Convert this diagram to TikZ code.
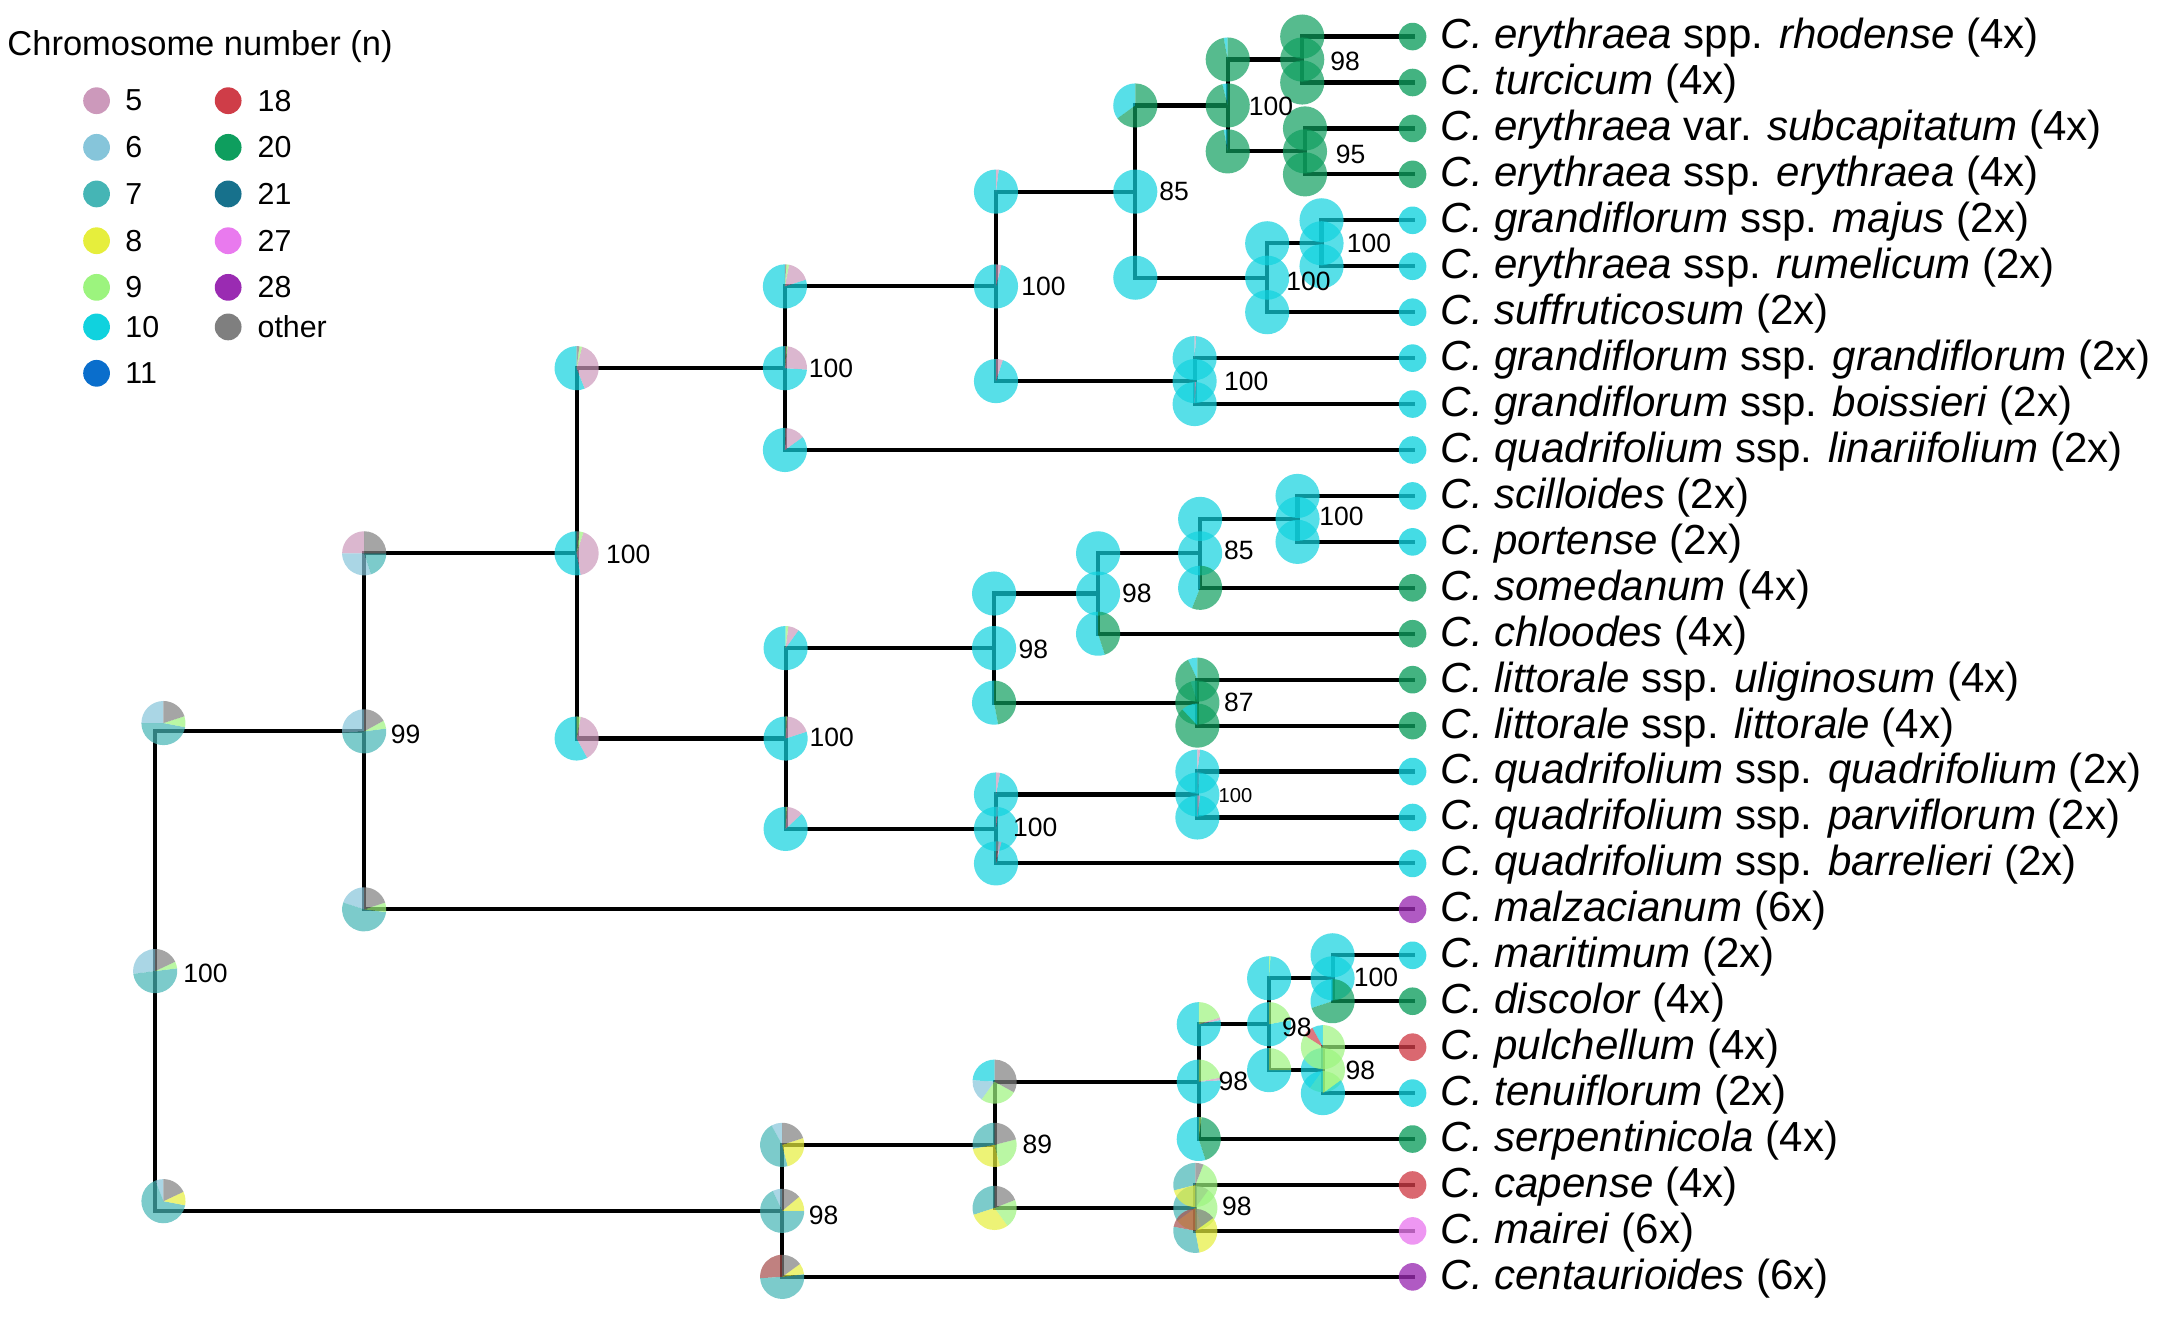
\documentclass[tikz,border=0pt]{standalone}
\usepackage{fontspec}
\setmainfont{Liberation Sans}
\usetikzlibrary{calc}
\definecolor{s5}{HTML}{CC99BB}
\definecolor{s6}{HTML}{86C5DA}
\definecolor{s7}{HTML}{45B5B5}
\definecolor{s8}{HTML}{E6EE3C}
\definecolor{s9}{HTML}{9CF47E}
\definecolor{s10}{HTML}{10D2DE}
\definecolor{s11}{HTML}{0A6ECC}
\definecolor{s18}{HTML}{CF3D48}
\definecolor{s20}{HTML}{0E9E5E}
\definecolor{s21}{HTML}{17718C}
\definecolor{s27}{HTML}{E97AEE}
\definecolor{s28}{HTML}{9A2BB2}
\definecolor{so}{HTML}{7F7F7F}
\definecolor{rb}{HTML}{A54C4A}
\newcommand\mypie[3]{%
  \gdef\mypieang{-90}%
  \foreach \pc/\pf in {#3}{%
    \pgfmathsetmacro\mypieend{\mypieang-360*\pf}%
    \fill[fill=\pc, piefill] (#1) -- ++(\mypieang:#2) arc[start angle=\mypieang, end angle=\mypieend, radius=#2] -- cycle;%
    \global\let\mypieang\mypieend
  }%
}
\begin{document}
\begin{tikzpicture}[x=0.5pt,y=-0.5pt,
  edge/.style={line width=1.5pt, line cap=rect, black},
  piefill/.style={fill opacity=0.7},
  tipdot/.style={circle, inner sep=0pt, minimum size=10pt, fill opacity=0.78},
  bs/.style={anchor=west, inner sep=0pt, font=\fontsize{9.6}{10}\selectfont},
  bss/.style={anchor=west, inner sep=0pt, font=\fontsize{7.3}{8}\selectfont},
  tiplab/.style={anchor=base west, inner sep=0pt, font=\fontsize{15.25}{16}\selectfont},
  legdot/.style={circle, inner sep=0pt, minimum size=9.7pt},
  legtxt/.style={anchor=west, inner sep=0pt, font=\fontsize{11}{12}\selectfont},
]
\useasboundingbox (0,0) rectangle (1568,954);

% ---------- tips ----------
\coordinate (t0) at (1024,26.5);
\coordinate (t1) at (1024,59.8);
\coordinate (t2) at (1024,93.1);
\coordinate (t3) at (1024,126.4);
\coordinate (t4) at (1024,159.7);
\coordinate (t5) at (1024,193.0);
\coordinate (t6) at (1024,226.3);
\coordinate (t7) at (1024,259.6);
\coordinate (t8) at (1024,292.9);
\coordinate (t9) at (1024,326.2);
\coordinate (t10) at (1024,359.5);
\coordinate (t11) at (1024,392.8);
\coordinate (t12) at (1024,426.1);
\coordinate (t13) at (1024,459.4);
\coordinate (t14) at (1024,492.7);
\coordinate (t15) at (1024,526.0);
\coordinate (t16) at (1024,559.3);
\coordinate (t17) at (1024,592.6);
\coordinate (t18) at (1024,625.9);
\coordinate (t19) at (1024,659.2);
\coordinate (t20) at (1024,692.5);
\coordinate (t21) at (1024,725.8);
\coordinate (t22) at (1024,759.1);
\coordinate (t23) at (1024,792.4);
\coordinate (t24) at (1024,825.7);
\coordinate (t25) at (1024,859.0);
\coordinate (t26) at (1024,892.3);
\coordinate (t27) at (1024,925.6);

% ---------- internal nodes ----------
\coordinate (R) at (112.5,703.95);
\coordinate (A) at (264,530.15);
\coordinate (B) at (567,877.75);
\coordinate (C) at (418,401.1);
\coordinate (D) at (569,266.9);
\coordinate (E) at (569.5,535.35);
\coordinate (F) at (722,207.6);
\coordinate (G) at (823,138.9);
\coordinate (H) at (866,276.25);
\coordinate (I) at (890,76.45);
\coordinate (J) at (918.6,201.3);
\coordinate (K) at (944,43.15);
\coordinate (L) at (946,109.75);
\coordinate (M) at (958,176.35);
\coordinate (N) at (720.6,469.8);
\coordinate (O) at (722,600.9);
\coordinate (P) at (796,430.25);
\coordinate (Q) at (868,509.35);
\coordinate (S) at (870,401.1);
\coordinate (T) at (940.6,376.15);
\coordinate (U) at (868,575.95);
\coordinate (V) at (721,829.9);
\coordinate (W) at (869,784.1);
\coordinate (X) at (866.5,875.65);
\coordinate (Y) at (920,742.45);
\coordinate (Z) at (966,709.15);
\coordinate (AA) at (959,775.75);

% ---------- branches ----------
\foreach \p/\c in {R/A,R/B,A/C,A/t19,B/V,B/t27,C/D,C/E,D/F,D/t9,E/N,E/O,F/G,F/H,G/I,G/J,H/t7,H/t8,I/K,I/L,J/M,J/t6,K/t0,K/t1,L/t2,L/t3,M/t4,M/t5,N/P,N/Q,O/U,O/t18,P/S,P/t13,Q/t14,Q/t15,S/T,S/t12,T/t10,T/t11,U/t16,U/t17,V/W,V/X,W/Y,W/t24,X/t25,X/t26,Y/Z,Y/AA,Z/t20,Z/t21,AA/t22,AA/t23}
  {\draw[edge] (\p |- \c) -- (\c);}
\foreach \p/\a/\b in {R/A/B,A/C/t19,B/V/t27,C/D/E,D/F/t9,E/N/O,F/G/H,G/I/J,H/t7/t8,I/K/L,J/M/t6,K/t0/t1,L/t2/t3,M/t4/t5,N/P/Q,O/U/t18,P/S/t13,Q/t14/t15,S/T/t12,T/t10/t11,U/t16/t17,V/W/X,W/Y/t24,X/t25/t26,Y/Z/AA,Z/t20/t21,AA/t22/t23}
  {\draw[edge] (\p |- \a) -- (\p |- \b);}

% ---------- node pies ----------
\mypie{R}{16}{s6/0.27,s7/0.50,s9/0.05,so/0.18}
\mypie{A}{16}{s6/0.26,s7/0.51,s9/0.06,so/0.17}
\mypie{B}{16}{s6/0.07,s7/0.68,s8/0.11,so/0.14}
\mypie{C}{16}{s10/0.53,s5/0.42,s9/0.03,so/0.02}
\mypie{D}{16}{s10/0.74,s5/0.24,s9/0.01,so/0.01}
\mypie{E}{16}{s10/0.80,s5/0.19,s9/0.01}
\mypie{F}{16}{s10/0.96,s5/0.04}
\mypie{G}{16}{s10/1}
\mypie{H}{16}{s10/1}
\mypie{I}{16}{s10/0.04,s20/0.96}
\mypie{J}{16}{s10/1}
\mypie{K}{16}{s20/1}
\mypie{L}{16}{s20/1}
\mypie{M}{16}{s10/1}
\mypie{N}{16}{s10/1}
\mypie{O}{16}{s10/0.98,s5/0.02}
\mypie{P}{16}{s10/1}
\mypie{Q}{16}{s10/0.05,s20/0.95}
\mypie{S}{16}{s10/1}
\mypie{T}{16}{s10/1}
\mypie{U}{16}{s10/0.98,s5/0.02}
\mypie{V}{16}{s7/0.28,s8/0.26,s9/0.25,so/0.21}
\mypie{W}{16}{s10/0.76,s5/0.02,s9/0.22}
\mypie{X}{16}{s7/0.35,s8/0.20,s9/0.35,so/0.10}
\mypie{Y}{16}{s10/0.78,s9/0.22}
\mypie{Z}{16}{s10/1}
\mypie{AA}{16}{s10/0.40,s9/0.60}

% ---------- branch-start pies ----------
\mypie{$(R |- A)+(6,-6)$}{16}{s6/0.25,s7/0.47,s9/0.08,so/0.20}
\mypie{$(R |- B)+(6,-7)$}{16}{s6/0.06,s7/0.66,s8/0.10,so/0.18}
\mypie{A |- C}{16}{s5/0.25,s6/0.30,s7/0.20,so/0.25}
\mypie{A |- t19}{16}{s6/0.20,s7/0.53,s9/0.07,so/0.20}
\mypie{C |- D}{16}{s10/0.56,s5/0.40,s9/0.02,so/0.02}
\mypie{C |- E}{16}{s10/0.58,s5/0.39,s9/0.03}
\mypie{D |- F}{16}{s10/0.80,s5/0.17,s9/0.02,so/0.01}
\mypie{D |- t9}{16}{s10/0.85,s5/0.14,so/0.01}
\mypie{F |- G}{16}{s10/0.98,s5/0.02}
\mypie{F |- H}{16}{s10/0.95,s5/0.05}
\mypie{G |- I}{16}{s10/0.35,s20/0.65}
\mypie{G |- J}{16}{s10/1}
\mypie{I |- K}{16}{s10/0.03,s20/0.97}
\mypie{I |- L}{16}{s10/0.03,s20/0.97}
\mypie{K |- t0}{16}{s20/1}
\mypie{K |- t1}{16}{s20/1}
\mypie{L |- t2}{16}{s20/1}
\mypie{L |- t3}{16}{s20/1}
\mypie{J |- M}{16}{s10/1}
\mypie{J |- t6}{16}{s10/1}
\mypie{M |- t4}{16}{s10/1}
\mypie{M |- t5}{16}{s10/1}
\mypie{H |- t7}{16}{s10/0.99,s5/0.01}
\mypie{H |- t8}{16}{s10/0.99,s5/0.01}
\mypie{E |- N}{16}{s10/0.90,s5/0.08,s9/0.02}
\mypie{E |- O}{16}{s10/0.87,s5/0.12,s9/0.01}
\mypie{N |- P}{16}{s10/1}
\mypie{N |- Q}{16}{s10/0.53,s20/0.47}
\mypie{P |- S}{16}{s10/1}
\mypie{P |- t13}{16}{s10/0.55,s20/0.45}
\mypie{S |- T}{16}{s10/1}
\mypie{S |- t12}{16}{s10/0.44,s20/0.56}
\mypie{T |- t10}{16}{s10/1}
\mypie{T |- t11}{16}{s10/1}
\mypie{Q |- t14}{16}{s10/0.07,s20/0.93}
\mypie{Q |- t15}{16}{s10/0.12,s20/0.88}
\mypie{O |- U}{16}{s10/0.97,s5/0.03}
\mypie{O |- t18}{16}{s10/0.96,s5/0.02,so/0.02}
\mypie{U |- t16}{16}{s10/0.98,s5/0.02}
\mypie{U |- t17}{16}{s10/0.98,s5/0.02}
\mypie{B |- V}{16}{s6/0.08,s7/0.46,s8/0.26,so/0.20}
\mypie{B |- t27}{16}{rb/0.26,s7/0.51,s8/0.08,so/0.15}
\mypie{V |- W}{16}{s10/0.24,s6/0.16,s9/0.27,so/0.33}
\mypie{V |- X}{16}{s7/0.30,s8/0.30,s9/0.21,so/0.19}
\mypie{W |- Y}{16}{s10/0.78,s5/0.02,s9/0.20}
\mypie{W |- t24}{16}{s10/0.55,s20/0.43,s9/0.02}
\mypie{Y |- Z}{16}{s10/0.99,s9/0.01}
\mypie{Y |- AA}{16}{s10/0.75,s9/0.25}
\mypie{Z |- t20}{16}{s10/1}
\mypie{Z |- t21}{16}{s10/0.30,s20/0.70}
\mypie{AA |- t22}{16}{s10/0.08,s18/0.08,s9/0.84}
\mypie{AA |- t23}{16}{s10/0.85,s9/0.15}
\mypie{X |- t25}{16}{s7/0.29,s8/0.21,s9/0.44,so/0.06}
\mypie{X |- t26}{16}{rb/0.22,s7/0.31,s8/0.32,so/0.15}

% ---------- tip states ----------
\foreach \i/\c in {0/s20,1/s20,2/s20,3/s20,4/s10,5/s10,6/s10,7/s10,8/s10,9/s10,10/s10,11/s10,12/s20,13/s20,14/s20,15/s20,16/s10,17/s10,18/s10,19/s28,20/s10,21/s20,22/s18,23/s10,24/s20,25/s18,26/s27,27/s28}
  {\node[tipdot, fill=\c] (d\i) at (t\i) {};}

% ---------- support values ----------
\node[bs] (bR) at ($(R)+(20,2)$) {100};
\node[bs] (bA) at ($(A)+(19,2)$) {99};
\node[bs] (bB) at ($(B)+(19,3)$) {98};
\node[bs] (bC) at ($(C)+(21,1)$) {100};
\node[bs] (bD) at ($(D)+(17,0)$) {100};
\node[bs] (bE) at ($(E)+(17,-1)$) {100};
\node[bs] (bF) at ($(F)+(18,0)$) {100};
\node[bs] (bG) at ($(G)+(17,0)$) {85};
\node[bs] (bH) at ($(H)+(21,0)$) {100};
\node[bs] (bI) at ($(I)+(15,1)$) {100};
\node[bs] (bJ) at ($(J)+(13.5,3)$) {100};
\node[bs] (bK) at ($(K)+(20,1)$) {98};
\node[bs] (bL) at ($(L)+(22,2)$) {95};
\node[bs] (bM) at ($(M)+(18,0)$) {100};
\node[bs] (bN) at ($(N)+(17.5,1)$) {98};
\node[bs] (bO) at ($(O)+(12,-1)$) {100};
\node[bs] (bP) at ($(P)+(17,0)$) {98};
\node[bs] (bQ) at ($(Q)+(19,0)$) {87};
\node[bs] (bS) at ($(S)+(17,-2)$) {85};
\node[bs] (bT) at ($(T)+(15.5,-2)$) {100};
\node[bss] (bU) at ($(U)+(15,1)$) {100};
\node[bs] (bV) at ($(V)+(20,0)$) {89};
\node[bs] (bW) at ($(W)+(14,0)$) {98};
\node[bs] (bX) at ($(X)+(19,-1)$) {98};
\node[bs] (bY) at ($(Y)+(9,2)$) {98};
\node[bs] (bZ) at ($(Z)+(15,-1)$) {100};
\node[bs] (bAA) at ($(AA)+(16,0)$) {98};

% ---------- tip labels ----------
\node[tiplab] (n0) at ($(t0)+(20,9)$) {\textit{C. erythraea} spp. \textit{rhodense} (4x)};
\node[tiplab] (n1) at ($(t1)+(20,9)$) {\textit{C. turcicum} (4x)};
\node[tiplab] (n2) at ($(t2)+(20,9)$) {\textit{C. erythraea} var. \textit{subcapitatum} (4x)};
\node[tiplab] (n3) at ($(t3)+(20,9)$) {\textit{C. erythraea} ssp. \textit{erythraea} (4x)};
\node[tiplab] (n4) at ($(t4)+(20,9)$) {\textit{C. grandiflorum} ssp. \textit{majus} (2x)};
\node[tiplab] (n5) at ($(t5)+(20,9)$) {\textit{C. erythraea} ssp. \textit{rumelicum} (2x)};
\node[tiplab] (n6) at ($(t6)+(20,9)$) {\textit{C. suffruticosum} (2x)};
\node[tiplab] (n7) at ($(t7)+(20,9)$) {\textit{C. grandiflorum} ssp. \textit{grandiflorum} (2x)};
\node[tiplab] (n8) at ($(t8)+(20,9)$) {\textit{C. grandiflorum} ssp. \textit{boissieri} (2x)};
\node[tiplab] (n9) at ($(t9)+(20,9)$) {\textit{C. quadrifolium} ssp. \textit{linariifolium} (2x)};
\node[tiplab] (n10) at ($(t10)+(20,9)$) {\textit{C. scilloides} (2x)};
\node[tiplab] (n11) at ($(t11)+(20,9)$) {\textit{C. portense} (2x)};
\node[tiplab] (n12) at ($(t12)+(20,9)$) {\textit{C. somedanum} (4x)};
\node[tiplab] (n13) at ($(t13)+(20,9)$) {\textit{C. chloodes} (4x)};
\node[tiplab] (n14) at ($(t14)+(20,9)$) {\textit{C. littorale} ssp. \textit{uliginosum} (4x)};
\node[tiplab] (n15) at ($(t15)+(20,9)$) {\textit{C. littorale} ssp. \textit{littorale} (4x)};
\node[tiplab] (n16) at ($(t16)+(20,9)$) {\textit{C. quadrifolium} ssp. \textit{quadrifolium} (2x)};
\node[tiplab] (n17) at ($(t17)+(20,9)$) {\textit{C. quadrifolium} ssp. \textit{parviflorum} (2x)};
\node[tiplab] (n18) at ($(t18)+(20,9)$) {\textit{C. quadrifolium} ssp. \textit{barrelieri} (2x)};
\node[tiplab] (n19) at ($(t19)+(20,9)$) {\textit{C. malzacianum} (6x)};
\node[tiplab] (n20) at ($(t20)+(20,9)$) {\textit{C. maritimum} (2x)};
\node[tiplab] (n21) at ($(t21)+(20,9)$) {\textit{C. discolor} (4x)};
\node[tiplab] (n22) at ($(t22)+(20,9)$) {\textit{C. pulchellum} (4x)};
\node[tiplab] (n23) at ($(t23)+(20,9)$) {\textit{C. tenuiflorum} (2x)};
\node[tiplab] (n24) at ($(t24)+(20,9)$) {\textit{C. serpentinicola} (4x)};
\node[tiplab] (n25) at ($(t25)+(20,9)$) {\textit{C. capense} (4x)};
\node[tiplab] (n26) at ($(t26)+(20,9)$) {\textit{C. mairei} (6x)};
\node[tiplab] (n27) at ($(t27)+(20,9)$) {\textit{C. centaurioides} (6x)};

% ---------- legend ----------
\node[anchor=base west, inner sep=0pt, font=\fontsize{12.5}{13}\selectfont] (legtitle) at (5,40) {Chromosome number (n)};
\node[legdot, fill=s5]  (g5)  at (70,73) {};    \node[legtxt] (h5)  at (90.5,73) {5};
\node[legdot, fill=s6]  (g6)  at (70,106.8) {}; \node[legtxt] (h6)  at (90.5,106.8) {6};
\node[legdot, fill=s7]  (g7)  at (70,140.6) {}; \node[legtxt] (h7)  at (90.5,140.6) {7};
\node[legdot, fill=s8]  (g8)  at (70,174.5) {}; \node[legtxt] (h8)  at (90.5,174.5) {8};
\node[legdot, fill=s9]  (g9)  at (70,208.3) {}; \node[legtxt] (h9)  at (90.5,208.3) {9};
\node[legdot, fill=s10] (g10) at (70,237) {};   \node[legtxt] (h10) at (90.5,237) {10};
\node[legdot, fill=s11] (g11) at (70,270.6) {}; \node[legtxt] (h11) at (90.5,270.6) {11};
\node[legdot, fill=s18] (g18) at (165.4,73) {};    \node[legtxt] (h18) at (186.4,73) {18};
\node[legdot, fill=s20] (g20) at (165.4,106.8) {}; \node[legtxt] (h20) at (186.4,106.8) {20};
\node[legdot, fill=s21] (g21) at (165.4,140.6) {}; \node[legtxt] (h21) at (186.4,140.6) {21};
\node[legdot, fill=s27] (g27) at (165.4,174.5) {}; \node[legtxt] (h27) at (186.4,174.5) {27};
\node[legdot, fill=s28] (g28) at (165.4,208.3) {}; \node[legtxt] (h28) at (186.4,208.3) {28};
\node[legdot, fill=so]  (gso) at (165.4,237) {};   \node[legtxt] (hso) at (186.4,237) {other};
\end{tikzpicture}
\end{document}
